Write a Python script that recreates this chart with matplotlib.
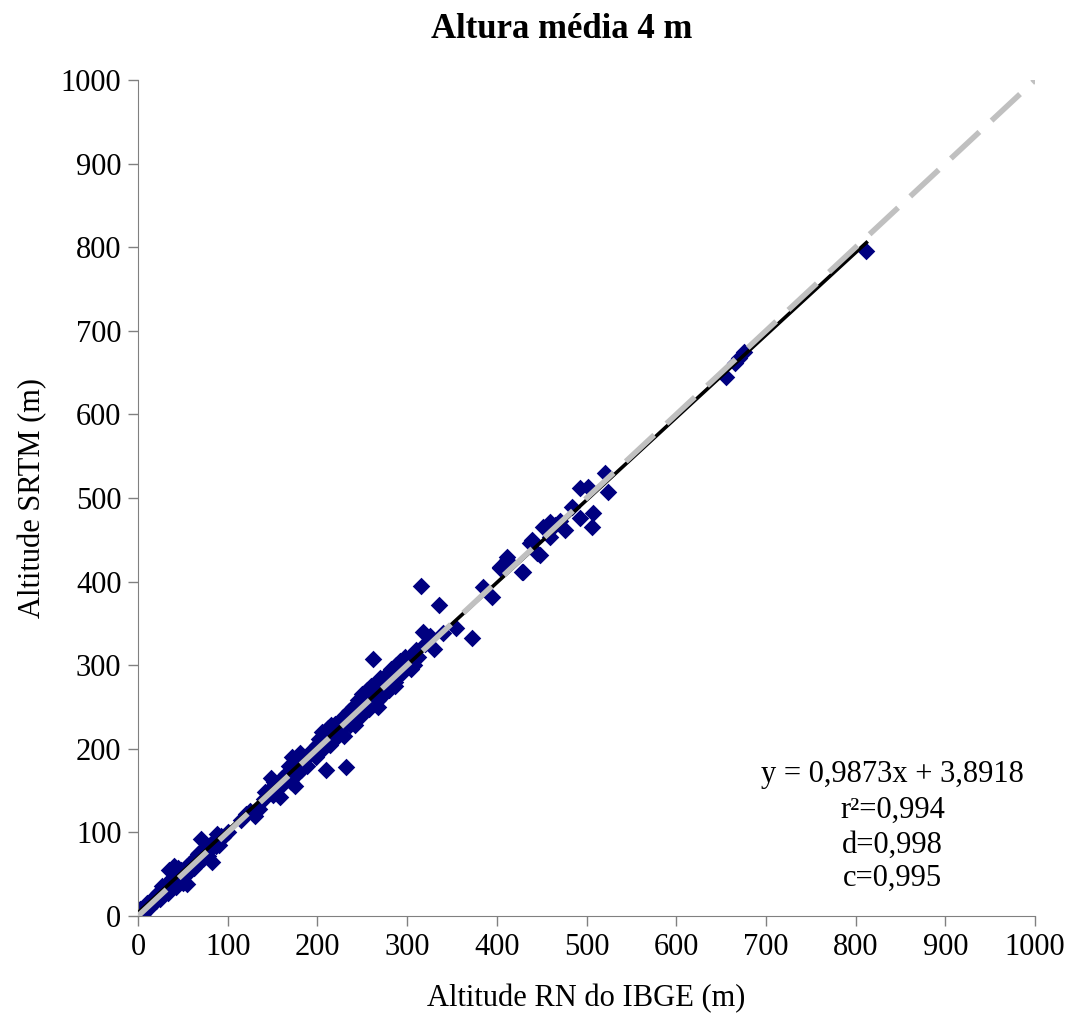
import numpy as np
import matplotlib.pyplot as plt

plt.rcParams['font.family'] = ['Liberation Serif', 'DejaVu Serif']

# Altitude RN do IBGE (x) vs Altitude SRTM (y)
ibge = [2, 5, 8, 10, 12, 15, 18, 20, 22, 25, 28, 30, 32, 35, 38, 40, 42, 45,
        48, 50, 52, 55, 58, 60, 62, 65, 68, 70, 72, 75, 78, 80, 82, 85, 88, 90,
        95, 100, 35, 45, 55, 6, 14, 24, 27, 33, 44, 47, 57, 63, 67, 77, 87, 92,
        115, 120, 125, 130, 135, 140, 145, 148, 150, 155, 158, 160, 165, 168,
        170, 172, 175, 178, 180, 182, 185, 188, 190, 195, 198, 200,
        142, 152, 162, 173, 177, 184, 193,
        202, 205, 208, 210, 212, 215, 218, 220, 222, 225, 228, 230, 232, 235,
        238, 240, 242, 245, 248, 250, 252, 255, 258, 260, 262, 264, 266, 268,
        270, 272, 275, 278, 280, 282, 285, 288, 290, 292, 295, 298, 300, 302,
        305, 308, 310, 312, 315, 318, 320, 325, 330, 335, 340, 355, 372,
        247, 253, 257, 263, 268, 273, 283, 287, 293, 297,
        206, 214, 226, 236, 244, 251, 259, 271, 277, 286, 296, 304, 309,
        385, 395, 404, 411, 428, 439, 448, 459, 404, 411, 429, 437, 445, 452,
        459, 476, 484, 493, 506, 507, 493, 502, 521, 524, 470, 465,
        655, 665, 675, 670, 812]
srtm = [8, 5, 12, 15, 10, 20, 22, 18, 28, 30, 25, 35, 38, 30, 45, 60, 35, 50,
        55, 40, 48, 60, 55, 65, 58, 70, 75, 92, 68, 80, 72, 85, 65, 90, 98, 85,
        95, 100, 55, 58, 38, 2, 18, 20, 36, 28, 40, 52, 62, 60, 74, 76, 84, 96,
        115, 122, 125, 120, 128, 140, 150, 165, 145, 158, 142, 165, 170, 180,
        160, 190, 155, 185, 195, 175, 190, 180, 192, 200, 190, 205,
        148, 160, 158, 178, 170, 182, 195,
        212, 220, 215, 175, 225, 228, 210, 230, 218, 222, 238, 215, 178, 245,
        232, 250, 228, 258, 240, 265, 255, 270, 248, 275, 308, 262, 280, 258,
        285, 265, 278, 290, 270, 295, 282, 300, 288, 305, 292, 310, 298, 305,
        312, 300, 318, 310, 395, 340, 325, 335, 320, 372, 338, 345, 333,
        238, 250, 268, 270, 250, 278, 288, 280, 298, 302,
        200, 205, 232, 228, 250, 245, 264, 262, 285, 275, 300, 295, 308,
        394, 382, 418, 429, 411, 450, 432, 471, 416, 426, 412, 446, 434, 465,
        453, 462, 489, 476, 465, 482, 512, 513, 530, 507, 472, 468,
        645, 662, 675, 668, 795]

slope = 0.9873
intercept = 3.8918
equation_lines = ["y = 0,9873x + 3,8918", "r²=0,994", "d=0,998", "c=0,995"]

fig = plt.figure(figsize=(10.71, 10.27), dpi=100)
ax = fig.add_axes([0.1289, 0.1081, 0.8375, 0.8139])

ax.scatter(ibge, srtm, marker='D', s=80, color='#000080', zorder=2, linewidths=0)

fit_x = np.array([0, max(ibge)])
ax.plot(fit_x, slope * fit_x + intercept, color='black', lw=2.6, zorder=3)
ax.plot([0, 1000], [0, 1000], color='#c0c0c0', lw=4, dashes=(7, 3), zorder=4)

ax.set_xlim(0, 1000)
ax.set_ylim(0, 1000)
ax.set_xticks(np.arange(0, 1001, 100))
ax.set_yticks(np.arange(0, 1001, 100))
ax.tick_params(direction='out', length=7, width=1, color='#808080', labelsize=22, pad=5)
for side in ['top', 'right']:
    ax.spines[side].set_visible(False)
for side in ['left', 'bottom']:
    ax.spines[side].set_color('#808080')

ax.set_xlabel("Altitude RN do IBGE (m)", fontsize=22, labelpad=16)
ax.set_ylabel("Altitude SRTM (m)", fontsize=22, labelpad=10)
fig.text(0.524, 0.971, "Altura média 4 m", ha='center', va='center',
         fontsize=25, fontweight='bold')

line_pos = [0.1687, 0.1268, 0.0850, 0.0455]
for txt, yp in zip(equation_lines, line_pos):
    ax.text(0.841, yp, txt, transform=ax.transAxes, ha='center', va='center',
            fontsize=22)

fig.savefig("out.png", dpi=100)
